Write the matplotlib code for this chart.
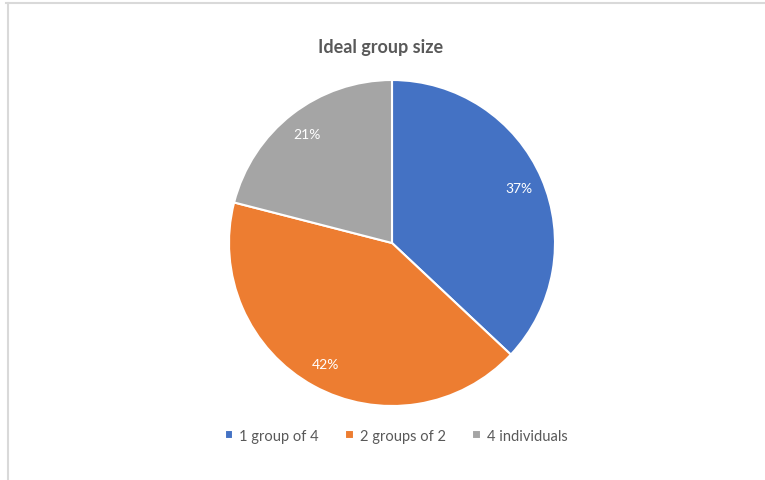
import matplotlib.pyplot as plt
from matplotlib.lines import Line2D

labels = ["1 group of 4", "2 groups of 2", "4 individuals"]
shares = [37, 42, 21]
colors = ["#4472C4", "#ED7D31", "#A5A5A5"]

W, H = 765, 481
fig = plt.figure(figsize=(W / 100, H / 100), dpi=100)
fig.patch.set_facecolor("white")

# chart frame (top and left edges)
fig.add_artist(Line2D([8 / W, 8 / W], [0, 1 - 4 / H], color="#D9D9D9", lw=1.5))
fig.add_artist(Line2D([6 / W, 1], [1 - 4 / H, 1 - 4 / H], color="#D9D9D9", lw=1.5))

cx, cy, r = 392, 244, 163
ax = fig.add_axes([(cx - r) / W, 1 - (cy + r) / H, 2 * r / W, 2 * r / H])
wedges, _, autotexts = ax.pie(
    shares, colors=colors, startangle=90, counterclock=False, radius=1,
    autopct=lambda p: f"{p:.0f}%", pctdistance=0.85,
    wedgeprops=dict(edgecolor="white", linewidth=1.5),
    textprops=dict(color="white", fontsize=10, family="Lato"),
)
ax.set_xlim(-1, 1)
ax.set_ylim(-1, 1)
ax.set_aspect("equal")

fig.text(381 / W, 1 - 48 / H, "Ideal group size", ha="center", va="center",
         fontsize=13, fontweight="bold", color="#595959", family="Lato")

fig.legend(wedges, labels, loc="center", bbox_to_anchor=(396 / W, 1 - 437 / H),
           ncol=3, frameon=False, handlelength=0.6, handleheight=0.6,
           handletextpad=0.4, columnspacing=1.8,
           prop=dict(family="Lato", size=10.5), labelcolor="#595959")

fig.savefig("out.png", dpi=100, facecolor="white")
